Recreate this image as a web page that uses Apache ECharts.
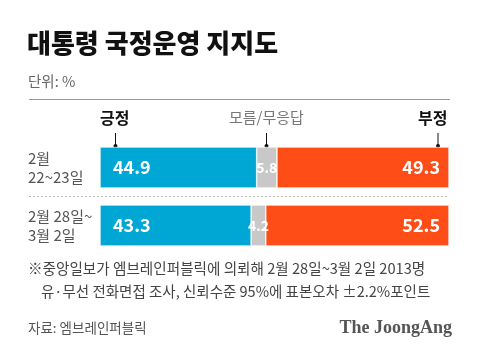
<!DOCTYPE html>
<html><head><meta charset="utf-8">
<script src="https://cdn.jsdelivr.net/npm/echarts@6/dist/echarts.min.js"></script>
<style>html,body{margin:0;padding:0;background:#fff}#c{width:480px;height:364px}</style>
</head><body><div id="c"></div>
<script>
const categories = ['2월\n22~23일', '2월 28일~\n3월 2일'];
const positive = [44.9, 43.3];
const unknown = [5.8, 4.2];
const negative = [49.3, 52.5];
const seriesNames = ['긍정', '모름/무응답', '부정'];

const KR = '"Noto Sans CJK KR", "Noto Sans", sans-serif';
const chart = echarts.init(document.getElementById('c'), null, {renderer: 'canvas'});
const fmt = p => p.value.toFixed(1);
chart.setOption({
  animation: false,
  backgroundColor: '#fff',
  title: [
    {text: '대통령 국정운영 지지도', left: 27, top: 30, padding: 0,
     textStyle: {fontFamily: KR, fontSize: 26, fontWeight: 900, color: '#111'}},
    {text: '단위: %', left: 28, top: 74, padding: 0,
     textStyle: {fontFamily: KR, fontSize: 14.5, fontWeight: 'normal', color: '#666'}}
  ],
  grid: {left: 100, right: 31, top: 138.5, height: 116},
  xAxis: {type: 'value', min: 0, max: 100, show: false},
  yAxis: {
    type: 'category', data: categories, inverse: true,
    axisLine: {show: false}, axisTick: {show: false},
    axisLabel: {align: 'left', margin: 72, fontFamily: KR, fontSize: 15, lineHeight: 19, color: '#555'}
  },
  series: [
    {name: seriesNames[0], type: 'bar', stack: 't', data: positive, barWidth: 41,
     itemStyle: {color: '#00A6D4', borderColor: '#fff', borderWidth: 0.6},
     label: {show: true, position: 'insideLeft', distance: 13, formatter: fmt,
             fontFamily: KR, fontSize: 18, fontWeight: 'bold', color: '#fff'}},
    {name: seriesNames[1], type: 'bar', stack: 't', data: unknown, barWidth: 41,
     itemStyle: {color: '#C8C8C8', borderColor: '#fff', borderWidth: 0.6},
     label: {show: true, position: 'inside', formatter: fmt,
             fontFamily: KR, fontSize: 14, fontWeight: 'bold', color: '#fff'}},
    {name: seriesNames[2], type: 'bar', stack: 't', data: negative, barWidth: 41,
     itemStyle: {color: '#FF4D17', borderColor: '#fff', borderWidth: 0.6},
     label: {show: true, position: 'insideRight', distance: 9, formatter: fmt,
             fontFamily: KR, fontSize: 18, fontWeight: 'bold', color: '#fff'}}
  ],
  graphic: [
    {type: 'line', shape: {x1: 29, y1: 99.5, x2: 450, y2: 99.5}, style: {stroke: '#999', lineWidth: 1}},
    {type: 'line', shape: {x1: 29, y1: 196.5, x2: 449, y2: 196.5}, style: {stroke: '#bbb', lineWidth: 1, lineDash: [2, 2]}},
    {type: 'text', left: 100, top: 110, style: {text: seriesNames[0], font: 'bold 16px ' + KR, fill: '#111'}},
    {type: 'text', left: 229, top: 110, style: {text: seriesNames[1], font: '15px ' + KR, fill: '#777'}},
    {type: 'text', left: 418, top: 110, style: {text: seriesNames[2], font: 'bold 16px ' + KR, fill: '#111'}},
    {type: 'line', shape: {x1: 115.5, y1: 133, x2: 115.5, y2: 146}, style: {stroke: '#111', lineWidth: 1}},
    {type: 'circle', shape: {cx: 115.5, cy: 146, r: 2}, style: {fill: '#111'}},
    {type: 'line', shape: {x1: 266.5, y1: 133, x2: 266.5, y2: 146}, style: {stroke: '#111', lineWidth: 1}},
    {type: 'circle', shape: {cx: 266.5, cy: 146, r: 2}, style: {fill: '#111'}},
    {type: 'line', shape: {x1: 438, y1: 133, x2: 438, y2: 146}, style: {stroke: '#111', lineWidth: 1}},
    {type: 'circle', shape: {cx: 438, cy: 146, r: 2}, style: {fill: '#111'}},
    {type: 'text', left: 28, top: 261, style: {text: '※중앙일보가 엠브레인퍼블릭에 의뢰해 2월 28일~3월 2일 2013명', font: '14.6px ' + KR, fill: '#444'}},
    {type: 'text', left: 41, top: 284, style: {text: '유·무선 전화면접 조사, 신뢰수준 95%에 표본오차 ±2.2%포인트', font: '14.5px ' + KR, fill: '#444'}},
    {type: 'text', left: 28, top: 321, style: {text: '자료: 엠브레인퍼블릭', font: '13.5px ' + KR, fill: '#555'}},
    {type: 'text', right: 28, top: 319, style: {text: 'The JoongAng', font: 'bold 18px "Liberation Serif", "DejaVu Serif", serif', fill: '#555'}}
  ]
});
</script></body></html>
